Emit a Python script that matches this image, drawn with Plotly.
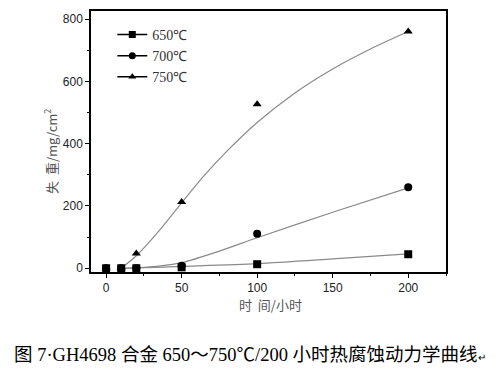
import plotly.graph_objects as go

# measured data
hours = [0, 10, 20, 50, 100, 200]
loss_650 = [0, 0, 0, 3, 13, 45]
loss_700 = [0, 0, 0, 8, 111, 260]
loss_750 = [0, 0, 47, 213, 527, 760]
series_names = ["650℃", "700℃", "750℃"]
symbols = ["square", "circle", "triangle-up"]

# fitted curves
fit_x_650 = [10, 20, 50, 100, 150, 200]
fit_y_650 = [0, 1, 6, 15, 30, 46]
fit_x_700 = [10, 20, 35, 50, 75, 100, 150, 200]
fit_y_700 = [0, 1, 7, 18, 55, 98, 180, 258]
fit_x_750 = [10, 20, 35, 50, 65, 80, 100, 125, 150, 175, 200]
fit_y_750 = [0, 40, 120, 210, 298, 376, 468, 563, 640, 704, 760]

x_ticks = [0, 50, 100, 150, 200]
y_ticks = [0, 200, 400, 600, 800]

fig = go.Figure()
fits = [(fit_x_650, fit_y_650), (fit_x_700, fit_y_700), (fit_x_750, fit_y_750)]
for fx, fy in fits:
    fig.add_trace(go.Scatter(x=fx, y=fy, mode="lines", line=dict(color="#8a8a8a", width=1.2, shape="spline", smoothing=0.8),
                             showlegend=False, hoverinfo="skip"))
for ys, sym in zip([loss_650, loss_700, loss_750], symbols):
    fig.add_trace(go.Scatter(x=hours, y=ys, mode="markers",
                             marker=dict(symbol=sym, size=8, color="black"), showlegend=False))
for name, sym in zip(series_names, symbols):
    fig.add_trace(go.Scatter(x=[None], y=[None], mode="lines+markers", name=name,
                             line=dict(color="black", width=1.5),
                             marker=dict(symbol=sym, size=7, color="black")))

axis_common = dict(showline=True, linecolor="black", linewidth=1.5, mirror=True,
                   ticks="outside", ticklen=4, tickwidth=1, tickcolor="black",
                   showgrid=False, zeroline=False,
                   tickfont=dict(family="Liberation Sans, Arial", size=12, color="#222"),
                   minor=dict(ticks="outside", ticklen=2, tickcolor="black"))

fig.update_xaxes(range=[-10, 225], tickvals=x_ticks, **axis_common)
fig.update_yaxes(range=[-12, 826], tickvals=y_ticks, **axis_common)
fig.update_xaxes(minor_dtick=25)
fig.update_yaxes(minor_dtick=100)

fig.update_layout(
    width=490, height=367,
    margin=dict(l=83, r=52, t=1, b=103),
    paper_bgcolor="white", plot_bgcolor="white",
    showlegend=True,
    legend=dict(x=0.06, y=0.97, xanchor="left", yanchor="top", bgcolor="rgba(0,0,0,0)",
                font=dict(family="Liberation Serif, Times New Roman", size=14, color="#333"),
                tracegroupgap=0, itemwidth=30),
    annotations=[
        dict(text="失\u00a0\u00a0重/mg/cm<sup>2</sup>", xref="paper", yref="paper", x=0, y=0.46,
             xanchor="center", yanchor="middle",
             xshift=-41, textangle=-90, showarrow=False,
             font=dict(family="Noto Sans CJK SC", size=13, color="#555")),
        dict(text="时\u00a0\u00a0间/小时", xref="paper", yref="paper", x=0.505, y=0,
             xanchor="center", yanchor="middle", yshift=-32,
             showarrow=False, font=dict(family="Noto Sans CJK SC", size=13, color="#555")),
        dict(text="图 7·GH4698 合金 650～750℃/200 小时热腐蚀动力学曲线<span style='font-size:10px'>↵</span>",
             xref="paper", yref="paper", x=0.448, y=0, xanchor="center", yanchor="middle",
             yshift=-83, showarrow=False,
             font=dict(family="Liberation Serif, Noto Sans CJK SC", size=18.5, color="black")),
    ],
)

fig.write_html("out.html")
